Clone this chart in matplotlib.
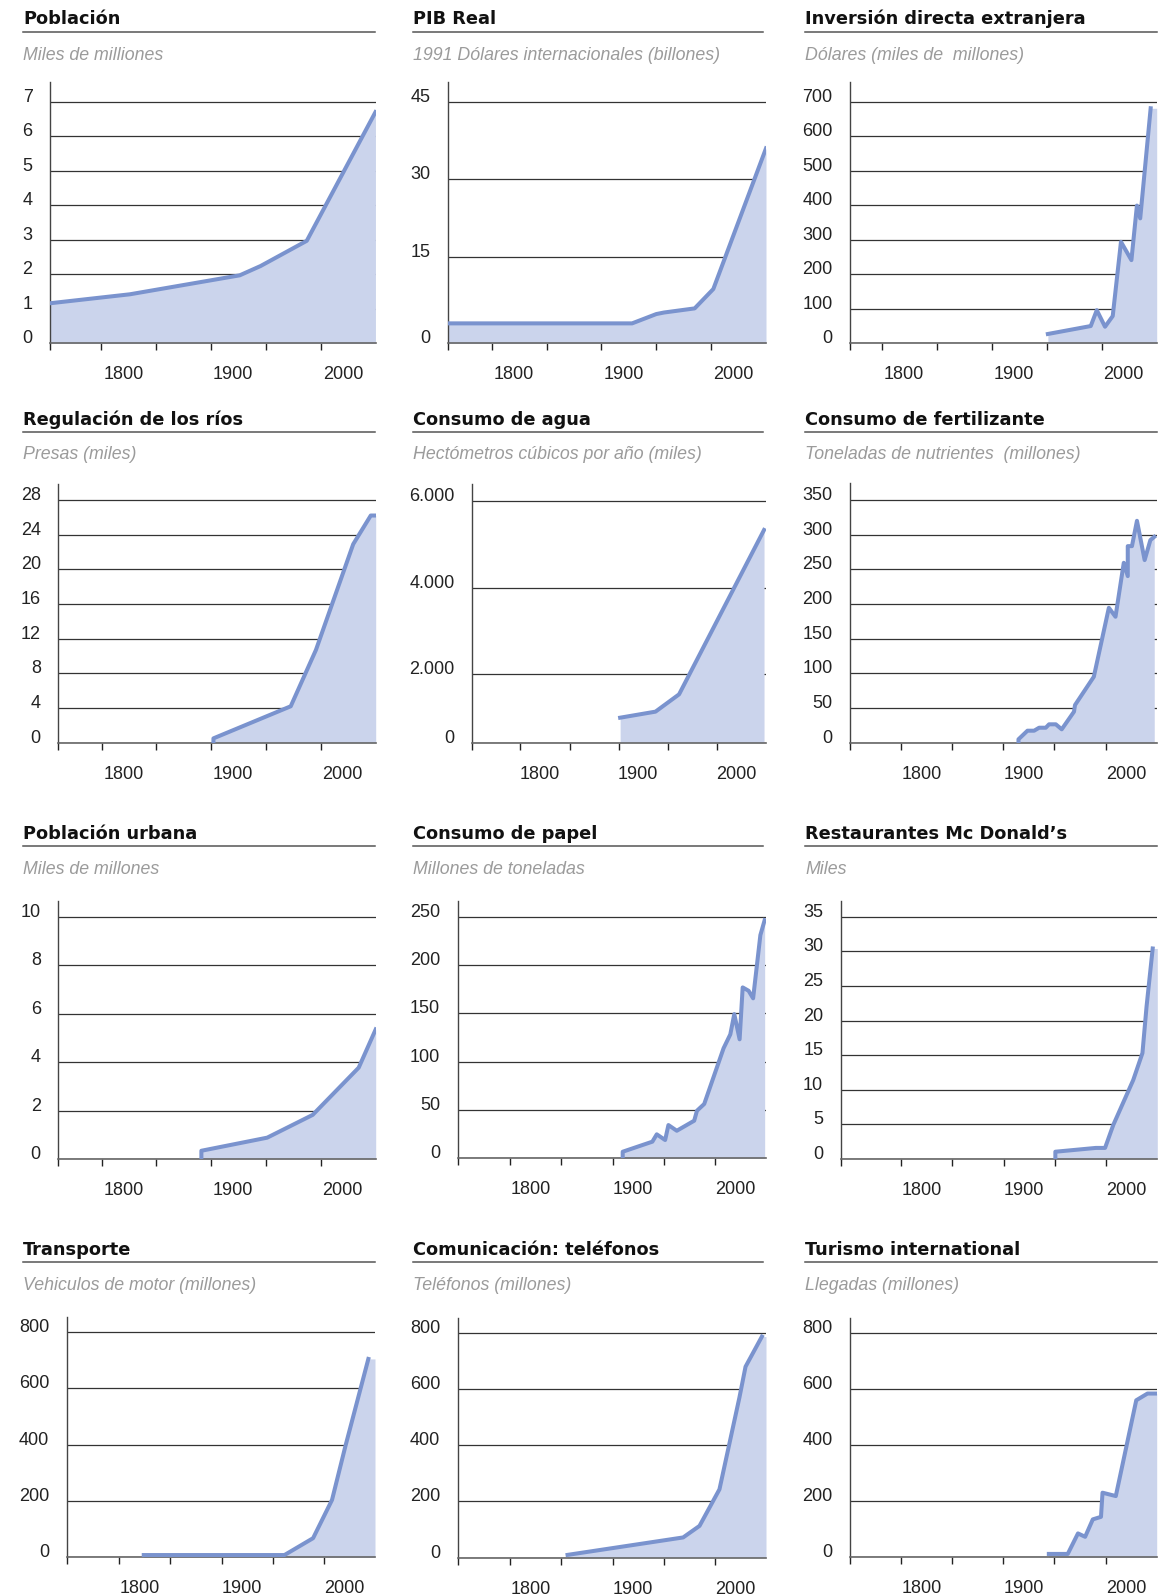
import matplotlib
matplotlib.use('Agg')
import matplotlib.pyplot as plt
from matplotlib.lines import Line2D

plt.rcParams['font.family'] = ['Liberation Sans', 'DejaVu Sans']

W, H = 1164, 1596

# ---- datos (x en años de la escala dibujada) ----
poblacion_anos = [1733.3, 1806, 1906, 1925, 1967, 2029.5]
poblacion = [1.16, 1.42, 1.97, 2.24, 2.97, 6.7]

pib_anos = [1740.5, 1908, 1930, 1937, 1965, 1982, 2030]
pib = [2.1, 2.1, 3.9, 4.2, 5.0, 8.75, 36.0]

inversion_anos = [1931, 1970, 1975.5, 1983, 1990, 1997.5, 2007, 2012, 2015, 2024.5]
inversion = [27, 50, 96, 48, 79, 294, 241, 399, 362, 681]

presas_anos = [1882, 1882, 1952.5, 1975.5, 2009.5, 2025.5, 2030]
presas = [0, 0.5, 4.2, 10.7, 22.9, 26.2, 26.2]

agua_anos = [1881.5, 1917.5, 1941.5, 2028]
agua = [990, 1130, 1530, 5330]

fert_anos = [1894.8, 1894.8, 1903.6, 1910.1, 1915, 1921.5, 1924.7, 1931.3, 1937.1,
             1949.1, 1950.1, 1968.5, 1983.2, 1989.7, 1997.8, 2001.7, 2001.7, 2005.8,
             2010.7, 2018.2, 2023.8, 2027.6]
fert = [0, 4.9, 17.3, 17.3, 21.6, 21.6, 26.5, 26.5, 19.3, 44.7, 54.3, 95.1, 194.5,
        181.6, 259.4, 240.2, 283.4, 283.4, 319.9, 263.3, 292.1, 296.8]

urbana_anos = [1871, 1871, 1931, 1972.5, 2014.5, 2030]
urbana = [0, 0.34, 0.88, 1.82, 3.77, 5.35]

papel_anos = [1889.9, 1889.9, 1918.9, 1923.2, 1931.4, 1934.6, 1942.8, 1959.8, 1962.5,
              1969.6, 1988.5, 1995.1, 1999, 2004.2, 2007.2, 2013, 2017.4, 2024.5, 2028.7]
papel = [0, 6.8, 17.2, 24.8, 18.9, 34.4, 28.5, 38.9, 49.2, 56.2, 113.8, 128.2, 149.2,
         123.1, 176.8, 173.3, 165.5, 230.9, 246.4]

mcd_anos = [1930.5, 1930.5, 1970, 1979, 1987, 2006.5, 2015.5, 2019.5, 2025.5]
mcd = [0, 1.05, 1.6, 1.6, 4.9, 11.4, 15.3, 22.0, 30.4]

vehiculos_anos = [1804, 1941.5, 1969.5, 1988, 2001, 2023.5]
vehiculos = [8, 8, 68, 204, 394, 705]

telefonos_anos = [1836, 1949, 1965, 1984.5, 2004, 2010, 2026]
telefonos = [10, 72, 113, 243, 569, 679, 786]

turismo_anos = [1924.5, 1943, 1953, 1960, 1967.5, 1975.5, 1977, 1990, 2010, 2021, 2030]
turismo = [12, 12, 85, 73, 135, 144, 230, 218, 559, 583, 583]

# etiquetas de ejes
anos_etiquetas = [1800, 1900, 2000]
marcas_x = [1780, 1830, 1880, 1930, 1980]
X_FIN = 2030

t_pob = list(range(0, 8))
t_pib = [-1.76, 15, 30, 45]
l_pib = ['0', '15', '30', '45']
t_inv = list(range(0, 701, 100))
t_presas = list(range(0, 29, 4))
t_agua = [412, 2000, 4000, 6000]
l_agua = ['0', '2.000', '4.000', '6.000']
t_fert = list(range(0, 351, 50))
t_urb = list(range(0, 11, 2))
t_papel = list(range(0, 251, 50))
t_mcd = list(range(0, 36, 5))
t_800 = list(range(0, 801, 200))

paneles = [
    dict(titulo='Población', sub='Miles de milliones', x=poblacion_anos, y=poblacion,
         caja=(50, 81.7, 376, 343.3), x0=1733.3, ylim=(0, 7.58), yt=t_pob),
    dict(titulo='PIB Real', sub='1991 Dólares internacionales (billones)', x=pib_anos, y=pib,
         caja=(448.3, 81.7, 766, 343.3), x0=1740.5, ylim=(-1.76, 48.9), yt=t_pib, yl=l_pib),
    dict(titulo='Inversión directa extranjera', sub='Dólares (miles de  millones)',
         x=inversion_anos, y=inversion, caja=(850, 81.7, 1156.7, 343.3), x0=1751,
         ylim=(0, 758), yt=t_inv, ext=True),
    dict(titulo='Regulación de los ríos', sub='Presas (miles)', x=presas_anos, y=presas,
         caja=(58.3, 484.3, 375.7, 742.7), x0=1740.5, ylim=(0, 29.8), yt=t_presas),
    dict(titulo='Consumo de agua', sub='Hectómetros cúbicos por año (miles)', x=agua_anos, y=agua,
         caja=(472.3, 484.3, 766, 742.7), x0=1731, ylim=(412, 6386), yt=t_agua, yl=l_agua),
    dict(titulo='Consumo de fertilizante', sub='Toneladas de nutrientes  (millones)',
         x=fert_anos, y=fert, caja=(850, 483.3, 1156.7, 742.7), x0=1730, ylim=(0, 374), yt=t_fert),
    dict(titulo='Población urbana', sub='Miles de millones', x=urbana_anos, y=urbana,
         caja=(58.3, 900.7, 375.7, 1159), x0=1740.5, ylim=(0, 10.66), yt=t_urb),
    dict(titulo='Consumo de papel', sub='Millones de toneladas', x=papel_anos, y=papel,
         caja=(457.7, 900.7, 766, 1158.3), x0=1728.6, ylim=(0, 266.5), yt=t_papel),
    dict(titulo='Restaurantes Mc Donald’s', sub='Miles', x=mcd_anos, y=mcd,
         caja=(840.7, 900.7, 1157.3, 1159), x0=1721, ylim=(0, 37.3), yt=t_mcd, ext=True),
    dict(titulo='Transporte', sub='Vehiculos de motor (millones)', x=vehiculos_anos, y=vehiculos,
         caja=(66.7, 1317.3, 375, 1557.3), x0=1728.7, ylim=(0, 853), yt=t_800, ext=True),
    dict(titulo='Comunicación: teléfonos', sub='Teléfonos (millones)', x=telefonos_anos, y=telefonos,
         caja=(457.7, 1317.7, 766, 1557.7), x0=1728.6, ylim=(0, 853), yt=t_800, ext=True),
    dict(titulo='Turismo international', sub='Llegadas (millones)', x=turismo_anos, y=turismo,
         caja=(850, 1317.7, 1156.7, 1557.3), x0=1730, ylim=(0, 853), yt=t_800),
]

REGLA_X = [(23, 375), (413, 763), (805, 1157)]
TITULO_Y = [24.3, 425, 839.3, 1255]
REGLA_Y = [32.3, 431.7, 846, 1262.3]
SUB_Y = [59.5, 459, 874, 1290]

LINEA = '#7A93CE'
RELLENO = '#CBD4EC'

fig = plt.figure(figsize=(W / 100, H / 100), dpi=100)


def caja_fig(l, t, r, b):
    return [l / W, 1 - b / H, (r - l) / W, (b - t) / H]


for i, p in enumerate(paneles):
    fila, col = divmod(i, 3)

    # cabecera
    xa, xb = REGLA_X[col]
    fig.text(xa / W, 1 - TITULO_Y[fila] / H, p['titulo'], family='DejaVu Sans',
             fontweight='bold', fontsize=12.8, color='#111111', va='baseline')
    fig.add_artist(Line2D([xa / W, xb / W], [1 - REGLA_Y[fila] / H] * 2,
                          color='#555555', lw=1.1, transform=fig.transFigure))
    fig.text(xa / W, 1 - SUB_Y[fila] / H, p['sub'], style='italic', fontsize=12.8,
             color='#9b9b9b', va='baseline')

    # grafico
    ax = fig.add_axes(caja_fig(*p['caja']))
    ax.set_xlim(p['x0'], X_FIN)
    ax.set_ylim(*p['ylim'])
    base = p['ylim'][0]

    fx, fy = list(p['x']), list(p['y'])
    if p.get('ext'):
        fx.append(X_FIN)
        fy.append(fy[-1])
    ax.fill_between(fx, fy, base, color=RELLENO, lw=0, zorder=2)
    ax.plot(p['x'], p['y'], color=LINEA, lw=2.9, zorder=3)

    for s in ['top', 'right']:
        ax.spines[s].set_visible(False)
    ax.spines['left'].set_color('#444444')
    ax.spines['left'].set_linewidth(1.0)
    ax.spines['bottom'].set_color('#666666')
    ax.spines['bottom'].set_linewidth(1.2)

    ax.set_xticks([p['x0']] + [m for m in marcas_x if m > p['x0']])
    ax.set_xticks(anos_etiquetas, minor=True)
    ax.set_xticklabels([str(a) for a in anos_etiquetas], minor=True)
    ax.tick_params(axis='x', which='major', length=5, width=1, color='#222222',
                   labelbottom=False)
    ax.tick_params(axis='x', which='minor', length=0, pad=16.5, labelsize=13,
                   labelcolor='#222222')

    ax.set_yticks(p['yt'], p.get('yl', [str(v) for v in p['yt']]))
    ax.tick_params(axis='y', length=0, pad=12.6, labelsize=13, labelcolor='#222222')
    plt.setp(ax.get_yticklabels(), va='baseline')

    ax.grid(axis='y', color='#333333', lw=0.9)
    ax.set_axisbelow(True)
    ax.patch.set_alpha(0)

fig.savefig('out.png', dpi=100)
